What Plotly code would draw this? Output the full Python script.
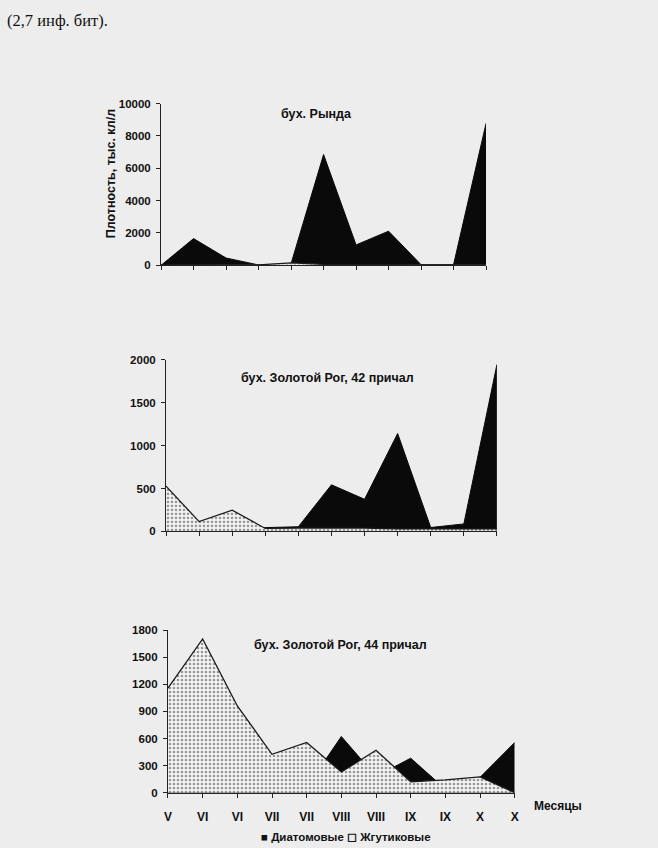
import plotly.graph_objects as go

months = ["V", "VI", "VI", "VII", "VII", "VIII", "VIII", "IX", "IX", "X", "X"]
xs = list(range(len(months)))

# бух. Рында
rynda_diatoms = [0, 1650, 450, 20, 100, 6850, 1260, 2110, 40, 40, 8780]
rynda_flag = [20, 40, 30, 30, 150, 60, 30, 40, 30, 30, 30]

# бух. Золотой Рог, 42 причал
zr42_diatoms = [0, 0, 0, 45, 55, 544, 375, 1142, 46, 88, 1946]
zr42_flag = [529, 115, 249, 35, 40, 40, 40, 30, 30, 30, 30]

# бух. Золотой Рог, 44 причал
zr44_diatoms = [0, 0, 0, 0, 60, 622, 180, 382, 40, 170, 556]
zr44_flag = [1156, 1702, 960, 425, 556, 229, 469, 120, 142, 175, 0]

titles = ["бух. Рында", "бух. Золотой Рог, 42 причал", "бух. Золотой Рог, 44 причал"]
yticks = [[0, 2000, 4000, 6000, 8000, 10000],
          [0, 500, 1000, 1500, 2000],
          [0, 300, 600, 900, 1200, 1500, 1800]]
ymax = [10000, 2000, 1800]
series_names = ["Диатомовые", "Жгутиковые"]

W, H = 658, 848
# pixel boxes: (x_left, x_right, y_top, y_bottom)
boxes = [(159, 488, 99, 263), (164, 499, 359, 533), (166, 517, 633, 798)]

FONT = "Liberation Sans, Arial, sans-serif"
INK = "#111111"
BG = "#ededed"


def bold(size):
    return dict(family=FONT, size=size, color=INK, weight="bold")


fig = go.Figure()
datasets = [(rynda_diatoms, rynda_flag), (zr42_diatoms, zr42_flag), (zr44_diatoms, zr44_flag)]
for i, (dia, fl) in enumerate(datasets):
    xa = "x" if i == 0 else f"x{i+1}"
    ya = "y" if i == 0 else f"y{i+1}"
    fig.add_trace(go.Scatter(
        x=xs, y=dia, xaxis=xa, yaxis=ya, mode="lines", fill="tozeroy",
        line=dict(color="#0a0a0a", width=1), fillcolor="#0a0a0a",
        name=series_names[0], showlegend=False, hoverinfo="skip"))
    fig.add_trace(go.Scatter(
        x=xs, y=fl, xaxis=xa, yaxis=ya, mode="lines", fill="tozeroy",
        line=dict(color="#1a1a1a", width=1.3),
        fillpattern=dict(shape=".", bgcolor="#f4f4f4", fgcolor="#333333", size=4, solidity=0.35),
        name=series_names[1], showlegend=False, hoverinfo="skip"))

layout = dict(
    width=W, height=H,
    margin=dict(l=0, r=0, t=0, b=0),
    paper_bgcolor=BG, plot_bgcolor="rgba(0,0,0,0)",
    font=dict(family=FONT, color=INK),
    showlegend=False,
)
annotations = []
for i, (xl, xr, yt, yb) in enumerate(boxes):
    xk = "xaxis" if i == 0 else f"xaxis{i+1}"
    yk = "yaxis" if i == 0 else f"yaxis{i+1}"
    ya = "y" if i == 0 else f"y{i+1}"
    layout[xk] = dict(
        domain=[xl / W, xr / W], range=[0, 10], anchor=ya,
        tickvals=xs, ticktext=months, showticklabels=(i == 2),
        ticks="outside", ticklen=4, tickcolor="#222222",
        showline=True, linecolor="#222222", linewidth=1, showgrid=False, zeroline=False,
        tickfont=bold(12), ticklabelstandoff=9,
    )
    layout[yk] = dict(
        domain=[(H - yb) / H, (H - yt) / H], range=[0, ymax[i]],
        anchor="x" if i == 0 else f"x{i+1}",
        tickvals=yticks[i], ticktext=[str(v) for v in yticks[i]],
        ticks="outside", ticklen=4, tickcolor="#222222",
        showline=True, linecolor="#222222", linewidth=1, showgrid=False, zeroline=False,
        tickfont=bold(11.5), ticklabelstandoff=3,
    )

title_pos = [(316, 110), (327, 377), (341, 648)]
for t, (tx, ty) in zip(titles, title_pos):
    annotations.append(dict(text=t, x=tx / W, y=(H - ty) / H, xref="paper", yref="paper",
                            showarrow=False, xanchor="center", yanchor="middle",
                            font=bold(12.5)))
annotations.append(dict(text="Плотность, тыс. кл/л", x=108 / W, y=(H - 170) / H,
                        xref="paper", yref="paper", showarrow=False, textangle=-90,
                        xanchor="center", yanchor="middle", font=bold(12.5)))
annotations.append(dict(text="Месяцы", x=561 / W, y=(H - 811) / H, xref="paper", yref="paper",
                        showarrow=False, xanchor="center", yanchor="middle", font=bold(12)))
# legend line
annotations.append(dict(text="■ " + series_names[0] + " ◻ " + series_names[1],
                        x=346 / W, y=(H - 843) / H, xref="paper", yref="paper",
                        showarrow=False, xanchor="center", yanchor="middle", font=bold(11.5)))
annotations.append(dict(text="(2,7 инф. бит).", x=1 / W, y=(H - 15) / H, xref="paper", yref="paper",
                        showarrow=False, xanchor="left", yanchor="middle",
                        font=dict(family="Liberation Serif, Times New Roman, serif", size=16.5, color=INK)))
layout["annotations"] = annotations
fig.update_layout(**layout)

fig.write_html(
    "out.html",
    config={"displayModeBar": False, "staticPlot": True},
    post_script="document.body.style.margin='0';document.body.style.background='%s';" % BG,
)
